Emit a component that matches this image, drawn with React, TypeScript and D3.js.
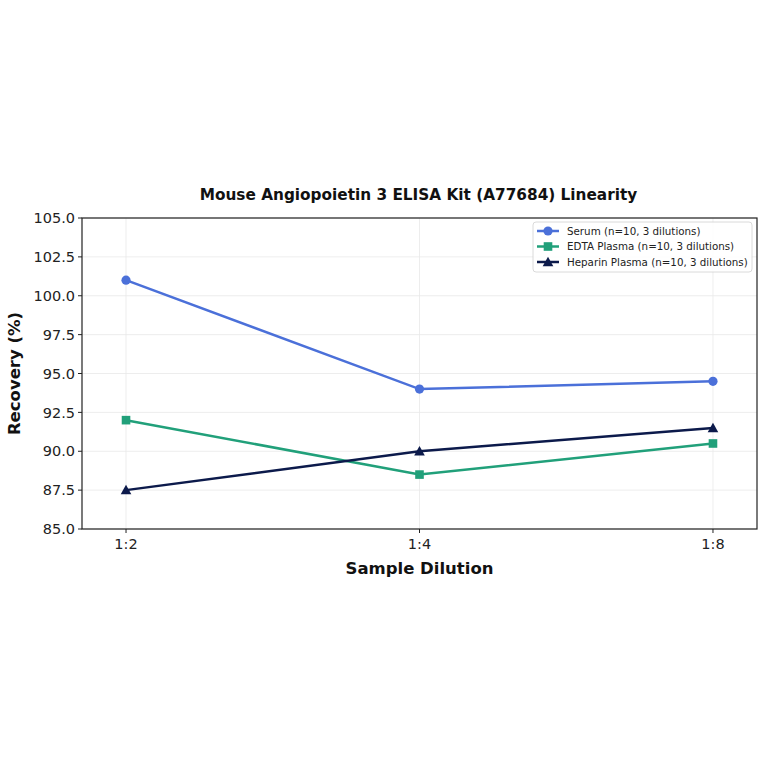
import React from "react";
import * as d3 from "d3";

const categories = ["1:2", "1:4", "1:8"];
const serum = [101.0, 94.0, 94.5];
const edta = [92.0, 88.5, 90.5];
const heparin = [87.5, 90.0, 91.5];
const yTicks = [85.0, 87.5, 90.0, 92.5, 95.0, 97.5, 100.0, 102.5, 105.0];
const seriesNames = [
  "Serum (n=10, 3 dilutions)",
  "EDTA Plasma (n=10, 3 dilutions)",
  "Heparin Plasma (n=10, 3 dilutions)",
];
const colors = ["#4b70d9", "#21a07a", "#0c1a4b"];
const markers = ["circle", "square", "triangle"];

const W = 764, H = 764;
const L = 82, R = 757, T = 218, B = 529;

function Marker({ type, x, y, color }: { type: string; x: number; y: number; color: string }) {
  if (type === "circle") return <circle cx={x} cy={y} r={4.6} fill={color} />;
  if (type === "square") return <rect x={x - 4.3} y={y - 4.3} width={8.6} height={8.6} fill={color} />;
  const s = 5.3;
  return <path d={`M${x},${y - s} L${x + s},${y + s * 0.8} L${x - s},${y + s * 0.8} Z`} fill={color} />;
}

export default function App() {
  const x = d3.scaleLinear().domain([-0.15, 2.15]).range([L, R]);
  const y = d3.scaleLinear().domain([85, 105]).range([B, T]);
  const data = [serum, edta, heparin];
  const line = d3.line<number>().x((_, i) => x(i)).y((d) => y(d));
  const font = "'DejaVu Sans', sans-serif";
  return (
    <div style={{ position: "absolute", left: 0, top: 0 }}>
      <svg width={W} height={H} style={{ display: "block", background: "#fff" }} fontFamily={font}>
        {yTicks.map((t) => (
          <line key={"gy" + t} x1={L} x2={R} y1={y(t)} y2={y(t)} stroke="#e8e8e8" strokeWidth={0.8} />
        ))}
        {categories.map((c, i) => (
          <line key={"gx" + c} x1={x(i)} x2={x(i)} y1={T} y2={B} stroke="#e8e8e8" strokeWidth={0.8} />
        ))}
        {data.map((d, si) => (
          <g key={si}>
            <path d={line(d) || ""} fill="none" stroke={colors[si]} strokeWidth={2.5} />
            {d.map((v, i) => (
              <Marker key={i} type={markers[si]} x={x(i)} y={y(v)} color={colors[si]} />
            ))}
          </g>
        ))}
        <rect x={L} y={T} width={R - L} height={B - T} fill="none" stroke="#222" strokeWidth={1.2} />
        {yTicks.map((t) => (
          <g key={"ty" + t}>
            <line x1={L - 4} x2={L} y1={y(t)} y2={y(t)} stroke="#222" strokeWidth={1} />
            <text x={L - 7} y={y(t)} dy="0.36em" textAnchor="end" fontSize={14.5} fill="#222">
              {t.toFixed(1)}
            </text>
          </g>
        ))}
        {categories.map((c, i) => (
          <g key={"tx" + c}>
            <line x1={x(i)} x2={x(i)} y1={B} y2={B + 4} stroke="#222" strokeWidth={1} />
            <text x={x(i)} y={B + 20} textAnchor="middle" fontSize={14.5} fill="#222">
              {c}
            </text>
          </g>
        ))}
        <text x={(L + R) / 2 - 1} y={200} textAnchor="middle" fontSize={15.3} fontWeight="bold" fill="#111">
          Mouse Angiopoietin 3 ELISA Kit (A77684) Linearity
        </text>
        <text x={(L + R) / 2} y={574} textAnchor="middle" fontSize={16.5} fontWeight="bold" fill="#111">
          Sample Dilution
        </text>
        <text
          transform={`translate(20,${(T + B) / 2}) rotate(-90)`}
          textAnchor="middle"
          fontSize={16.5}
          fontWeight="bold"
          fill="#111"
        >
          Recovery (%)
        </text>
        <rect x={533} y={222} width={219} height={50} rx={3} fill="#fff" fillOpacity={0.85} stroke="#d0d0d0" strokeWidth={0.8} />
        {seriesNames.map((n, i) => {
          const ly = 231 + i * 15.5;
          return (
            <g key={n}>
              <line x1={537} x2={559} y1={ly} y2={ly} stroke={colors[i]} strokeWidth={2.5} />
              <Marker type={markers[i]} x={548} y={ly} color={colors[i]} />
              <text x={567} y={ly} dy="0.35em" fontSize={10.3} fill="#222">
                {n}
              </text>
            </g>
          );
        })}
      </svg>
    </div>
  );
}
